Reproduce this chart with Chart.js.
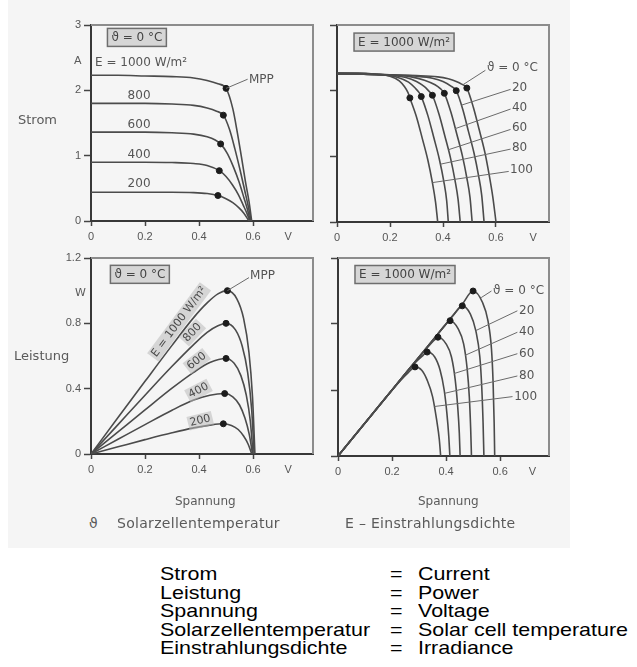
<!DOCTYPE html>
<html><head><meta charset="utf-8">
<script src="https://cdn.jsdelivr.net/npm/chart.js@4/dist/chart.umd.min.js"></script>
<style>
html,body{margin:0;padding:0;background:#fff}
body{width:637px;height:667px;position:relative;overflow:hidden}
#scan{position:absolute;left:8px;top:0;width:562px;height:548px;background:#f5f5f5}
canvas{position:absolute}
.lab{position:absolute;font-family:"DejaVu Sans",sans-serif;color:#5a5a5a;white-space:nowrap;line-height:1}
.tr{position:absolute;font-family:"Liberation Sans",Arial,sans-serif;color:#000;font-size:19px;line-height:19px;white-space:nowrap;transform:scaleX(1.13);transform-origin:0 0}
</style></head>
<body>
<div id="scan"></div>
<canvas id="c1" width="330" height="250" style="left:0;top:0"></canvas>
<canvas id="c2" width="240" height="250" style="left:320px;top:0"></canvas>
<canvas id="c3" width="330" height="260" style="left:0;top:240px"></canvas>
<canvas id="c4" width="240" height="260" style="left:320px;top:240px"></canvas>
<div class="lab" style="left:18px;top:113px;font-size:13px">Strom</div>
<div class="lab" style="left:14px;top:349px;font-size:13px">Leistung</div>
<div class="lab" style="left:74px;top:55px;font-size:11px">A</div>
<div class="lab" style="left:75px;top:287px;font-size:11px">W</div>
<div class="lab" style="left:175px;top:495px;font-size:12px">Spannung</div>
<div class="lab" style="left:418px;top:495px;font-size:12px">Spannung</div>
<div class="lab" style="left:89px;top:516px;font-size:14px">ϑ</div>
<div class="lab" style="left:117px;top:516px;font-size:14px;letter-spacing:0.3px">Solarzellentemperatur</div>
<div class="lab" style="left:345px;top:516px;font-size:14px;letter-spacing:0.3px">E – Einstrahlungsdichte</div>
<div id="table"></div>
<script>
// ---------------- data ----------------
const voltageTicks = [0, 0.2, 0.4, 0.6];
const currentTicks = [0, 1, 2, 3];
const powerTicks = [0, 0.4, 0.8, 1.2];
const irradianceLabels = ['E = 1000 W/m²', '800', '600', '400', '200'];
const temperatureLabels = ['ϑ = 0 °C', '20', '40', '60', '80', '100'];
const termsDe = ['Strom', 'Leistung', 'Spannung', 'Solarzellentemperatur', 'Einstrahlungsdichte'];
const termsEn = ['Current', 'Power', 'Voltage', 'Solar cell temperature', 'Irradiance'];

// current-voltage, irradiance series (ϑ = 0 °C)
const ivE1000 = [[0,2.23],[0.1,2.23],[0.2,2.22],[0.3,2.21],[0.38,2.19],[0.43,2.15],[0.47,2.1],[0.5,2.03],[0.525,1.72],[0.542,1.35],[0.557,0.98],[0.572,0.6],[0.585,0.3],[0.595,0]];
const ivE800  = [[0,1.8],[0.1,1.8],[0.2,1.8],[0.3,1.79],[0.38,1.77],[0.43,1.73],[0.465,1.68],[0.49,1.62],[0.513,1.4],[0.533,1.1],[0.552,0.78],[0.569,0.47],[0.582,0.23],[0.593,0]];
const ivE600  = [[0,1.36],[0.1,1.36],[0.2,1.36],[0.3,1.35],[0.38,1.33],[0.43,1.29],[0.46,1.24],[0.48,1.18],[0.505,1.03],[0.528,0.82],[0.548,0.6],[0.566,0.36],[0.579,0.18],[0.59,0]];
const ivE400  = [[0,0.9],[0.1,0.9],[0.2,0.9],[0.3,0.895],[0.38,0.88],[0.43,0.85],[0.475,0.77],[0.5,0.68],[0.524,0.55],[0.546,0.4],[0.564,0.24],[0.577,0.12],[0.588,0]];
const ivE200  = [[0,0.44],[0.1,0.44],[0.2,0.44],[0.3,0.44],[0.38,0.435],[0.43,0.42],[0.47,0.39],[0.5,0.34],[0.525,0.28],[0.548,0.2],[0.566,0.12],[0.585,0]];
const mppIvE  = [[0.5,2.03],[0.49,1.62],[0.48,1.18],[0.475,0.77],[0.47,0.39]];

// current-voltage, temperature series (E = 1000 W/m²)
const ivT0   = [[0,2.25],[0.1,2.25],[0.2,2.24],[0.3,2.23],[0.38,2.21],[0.42,2.18],[0.45,2.14],[0.47,2.1],[0.49,2.04],[0.515,1.74],[0.537,1.4],[0.558,1.06],[0.575,0.7],[0.588,0.38],[0.6,0]];
const ivT20  = [[0,2.25],[0.1,2.25],[0.2,2.24],[0.3,2.22],[0.36,2.19],[0.4,2.14],[0.43,2.07],[0.45,2.0],[0.475,1.71],[0.496,1.38],[0.517,1.05],[0.534,0.71],[0.546,0.41],[0.555,0]];
const ivT40  = [[0,2.26],[0.1,2.25],[0.2,2.24],[0.28,2.21],[0.33,2.16],[0.37,2.09],[0.39,2.03],[0.405,1.96],[0.43,1.67],[0.452,1.34],[0.473,1.01],[0.49,0.67],[0.502,0.37],[0.51,0]];
const ivT60  = [[0,2.26],[0.1,2.25],[0.2,2.23],[0.26,2.2],[0.3,2.14],[0.33,2.06],[0.345,2.0],[0.36,1.93],[0.385,1.64],[0.407,1.31],[0.428,0.98],[0.445,0.64],[0.457,0.34],[0.465,0]];
const ivT80  = [[0,2.27],[0.1,2.26],[0.18,2.24],[0.23,2.2],[0.27,2.13],[0.295,2.04],[0.31,1.97],[0.318,1.91],[0.343,1.62],[0.365,1.29],[0.386,0.96],[0.403,0.62],[0.414,0.32],[0.42,0]];
const ivT100 = [[0,2.27],[0.08,2.27],[0.15,2.25],[0.2,2.22],[0.235,2.15],[0.255,2.06],[0.268,1.97],[0.275,1.89],[0.3,1.6],[0.322,1.27],[0.343,0.94],[0.36,0.6],[0.372,0.3],[0.38,0]];
const mppIvT = [[0.49,2.04],[0.45,2.0],[0.405,1.96],[0.36,1.93],[0.318,1.91],[0.275,1.89]];

// power-voltage, irradiance series (ϑ = 0 °C)
const pvE1000 = [[0,0],[0.1,0.223],[0.2,0.445],[0.3,0.665],[0.38,0.835],[0.43,0.925],[0.47,0.98],[0.505,1.0],[0.54,0.95],[0.565,0.83],[0.585,0.62],[0.598,0.35],[0.607,0]];
const pvE800  = [[0,0],[0.1,0.18],[0.2,0.36],[0.3,0.537],[0.38,0.67],[0.43,0.745],[0.47,0.785],[0.5,0.8],[0.535,0.76],[0.56,0.66],[0.58,0.5],[0.595,0.27],[0.604,0]];
const pvE600  = [[0,0],[0.1,0.135],[0.2,0.27],[0.3,0.403],[0.38,0.5],[0.44,0.56],[0.5,0.585],[0.53,0.555],[0.555,0.48],[0.575,0.36],[0.59,0.2],[0.6,0]];
const pvE400  = [[0,0],[0.1,0.09],[0.2,0.18],[0.3,0.268],[0.38,0.33],[0.44,0.36],[0.495,0.37],[0.525,0.35],[0.55,0.3],[0.57,0.22],[0.586,0.12],[0.598,0]];
const pvE200  = [[0,0],[0.1,0.044],[0.2,0.088],[0.3,0.13],[0.38,0.16],[0.44,0.177],[0.49,0.185],[0.52,0.175],[0.545,0.15],[0.565,0.11],[0.582,0.06],[0.595,0]];
const mppPvE  = [[0.505,1.0],[0.5,0.8],[0.5,0.585],[0.495,0.37],[0.49,0.185]];

// power-voltage, temperature series (E = 1000 W/m²)
const pvT0   = [[0,0],[0.1,0.2],[0.2,0.4],[0.3,0.6],[0.4,0.8],[0.46,0.92],[0.5,1.0],[0.535,0.93],[0.555,0.82],[0.568,0.65],[0.574,0.45],[0.578,0.2],[0.58,0]];
const pvT20  = [[0,0],[0.1,0.2],[0.2,0.4],[0.3,0.6],[0.38,0.76],[0.43,0.86],[0.46,0.91],[0.49,0.86],[0.51,0.76],[0.525,0.6],[0.532,0.42],[0.537,0.2],[0.54,0]];
const pvT40  = [[0,0],[0.1,0.2],[0.2,0.4],[0.3,0.6],[0.36,0.72],[0.395,0.79],[0.415,0.82],[0.445,0.77],[0.465,0.68],[0.478,0.53],[0.486,0.36],[0.491,0.17],[0.494,0]];
const pvT60  = [[0,0],[0.1,0.2],[0.2,0.4],[0.28,0.56],[0.33,0.655],[0.355,0.7],[0.37,0.72],[0.4,0.68],[0.42,0.6],[0.434,0.46],[0.443,0.3],[0.449,0.14],[0.452,0]];
const pvT80  = [[0,0],[0.1,0.2],[0.2,0.4],[0.26,0.52],[0.295,0.58],[0.315,0.61],[0.33,0.63],[0.358,0.6],[0.378,0.52],[0.393,0.4],[0.403,0.26],[0.41,0.12],[0.414,0]];
const pvT100 = [[0,0],[0.1,0.2],[0.18,0.36],[0.23,0.455],[0.26,0.505],[0.285,0.54],[0.31,0.52],[0.33,0.46],[0.35,0.36],[0.365,0.22],[0.375,0.1],[0.38,0]];
const mppPvT = [[0.5,1.0],[0.46,0.91],[0.415,0.82],[0.37,0.72],[0.33,0.63],[0.285,0.54]];

// ---------------- rendering ----------------
const LINE = '#4b4b4b', TXT = '#555';
const toXY = a => a.map(p => ({x: p[0], y: p[1]}));
const curve = a => ({type:'line', data: toXY(a), borderColor: LINE, borderWidth: 1.6, pointRadius: 0,
  cubicInterpolationMode: 'monotone', fill: false, order: 2});
const mpp = a => ({type:'scatter', data: toXY(a), pointRadius: 3, pointStyle: 'circle',
  backgroundColor: '#1c1c1c', borderColor: '#1c1c1c', order: 1});
const fmt = v => (v === 0 ? '0' : String(v));

const ANN = {
  c1: { vx: 0.73,
    boxes: [{t: 'ϑ = 0 °C', x: 0.17, y: 2.81}],
    texts: [{t: irradianceLabels[0], x: 0.015, y: 2.42, a: 'left'},
            {t: irradianceLabels[1], x: 0.178, y: 1.91}, {t: irradianceLabels[2], x: 0.178, y: 1.47},
            {t: irradianceLabels[3], x: 0.178, y: 1.01}, {t: irradianceLabels[4], x: 0.178, y: 0.57},
            {t: 'MPP', x: 0.585, y: 2.16, a: 'left'}],
    leaders: [[0.5, 2.03, 0.58, 2.17]], rot: [] },
  c2: { vx: 0.74,
    boxes: [{t: 'E = 1000 W/m²', x: 0.253, y: 2.74}],
    texts: [{t: temperatureLabels[0], x: 0.566, y: 2.34, a: 'left'},
            {t: temperatureLabels[1], x: 0.66, y: 2.04, a: 'left'}, {t: temperatureLabels[2], x: 0.66, y: 1.74, a: 'left'},
            {t: temperatureLabels[3], x: 0.66, y: 1.43, a: 'left'}, {t: temperatureLabels[4], x: 0.66, y: 1.13, a: 'left'},
            {t: temperatureLabels[5], x: 0.653, y: 0.79, a: 'left'}],
    leaders: [[0.56,2.31,0.475,2.09],[0.655,2.02,0.47,1.78],[0.655,1.72,0.445,1.42],[0.655,1.41,0.42,1.1],[0.655,1.11,0.39,0.88],[0.648,0.77,0.36,0.6]],
    rot: [] },
  c3: { vx: 0.73,
    boxes: [{t: 'ϑ = 0 °C', x: 0.181, y: 1.1}],
    texts: [{t: 'MPP', x: 0.589, y: 1.09, a: 'left'}],
    leaders: [[0.505, 1.0, 0.585, 1.08]],
    rot: [{t: irradianceLabels[0], x: 0.35, y: 0.78, off: 8}, {t: irradianceLabels[1], x: 0.40, y: 0.705, off: 9},
          {t: irradianceLabels[2], x: 0.41, y: 0.53, off: 8}, {t: irradianceLabels[3], x: 0.41, y: 0.35, off: 7},
          {t: irradianceLabels[4], x: 0.41, y: 0.168, off: 6}] },
  c4: { vx: 0.72,
    boxes: [{t: 'E = 1000 W/m²', x: 0.248, y: 1.10}],
    texts: [{t: temperatureLabels[0], x: 0.574, y: 1.0, a: 'left'},
            {t: temperatureLabels[1], x: 0.67, y: 0.88, a: 'left'}, {t: temperatureLabels[2], x: 0.67, y: 0.75, a: 'left'},
            {t: temperatureLabels[3], x: 0.67, y: 0.62, a: 'left'}, {t: temperatureLabels[4], x: 0.67, y: 0.485, a: 'left'},
            {t: temperatureLabels[5], x: 0.652, y: 0.36, a: 'left'}],
    leaders: [[0.568,1.0,0.53,0.96],[0.664,0.88,0.51,0.76],[0.664,0.75,0.47,0.61],[0.664,0.62,0.43,0.5],[0.664,0.485,0.395,0.38],[0.646,0.36,0.357,0.3]],
    rot: [] }
};

const annPlugin = {
  id: 'ann',
  beforeDatasetsDraw(chart) {
    const {ctx, chartArea: a} = chart;
    ctx.save();
    ctx.strokeStyle = '#8c8c8c'; ctx.lineWidth = 2;
    ctx.beginPath(); ctx.moveTo(a.left, a.top); ctx.lineTo(a.right, a.top); ctx.lineTo(a.right, a.bottom); ctx.stroke();
    ctx.restore();
  },
  afterDatasetsDraw(chart) {
    const A = ANN[chart.canvas.id]; if (!A) return;
    const {ctx, chartArea: a} = chart;
    const xs = chart.scales.x, ys = chart.scales.y;
    const px = v => xs.getPixelForValue(v), py = v => ys.getPixelForValue(v);
    ctx.save();
    // leaders
    ctx.strokeStyle = '#6a6a6a'; ctx.lineWidth = 1;
    A.leaders.forEach(l => { ctx.beginPath(); ctx.moveTo(px(l[0]), py(l[1])); ctx.lineTo(px(l[2]), py(l[3])); ctx.stroke(); });
    ctx.textBaseline = 'middle';
    // boxed labels
    ctx.font = '12px "DejaVu Sans"';
    A.boxes.forEach(b => {
      const w = ctx.measureText(b.t).width + 8, h = 18, cx = px(b.x), cy = py(b.y);
      ctx.fillStyle = '#d6d6d6'; ctx.fillRect(cx - w/2, cy - h/2, w, h);
      ctx.strokeStyle = '#6e6e6e'; ctx.lineWidth = 1.5; ctx.strokeRect(cx - w/2, cy - h/2, w, h);
      ctx.fillStyle = '#444'; ctx.textAlign = 'center'; ctx.fillText(b.t, cx, cy + 0.5);
    });
    // plain labels
    ctx.font = '12px "DejaVu Sans"'; ctx.fillStyle = TXT;
    A.texts.forEach(t => { ctx.textAlign = t.a || 'center'; ctx.fillText(t.t, px(t.x), py(t.y)); });
    // rotated labels along the power lines
    const ox = px(0), oy = py(0);
    A.rot.forEach(r => {
      const x = px(r.x), y = py(r.y), ang = Math.atan2(y - oy, x - ox);
      ctx.save(); ctx.translate(x, y); ctx.rotate(ang);
      ctx.font = '11px "DejaVu Sans"';
      const w = ctx.measureText(r.t).width + 4;
      ctx.fillStyle = 'rgba(185,185,185,0.55)'; ctx.fillRect(-w/2, -r.off - 7, w, 14);
      ctx.fillStyle = '#4a4a4a'; ctx.textAlign = 'center'; ctx.fillText(r.t, 0, -r.off);
      ctx.restore();
    });
    // axis unit V
    ctx.font = '11px "Liberation Sans"'; ctx.fillStyle = TXT; ctx.textAlign = 'center';
    ctx.fillText('V', px(A.vx), a.bottom + 16);
    ctx.restore();
  }
};

function makePanel(id, area, cw, ch, xMax, yMax, yTicks, yLab, curves, mpps) {
  const datasets = curves.map(curve).concat([mpp(mpps)]);
  new Chart(document.getElementById(id), {
    type: 'line',
    data: {datasets},
    plugins: [annPlugin],
    options: {
      responsive: false, animation: false, events: [],
      layout: {padding: {left: 0, top: area.t, right: cw - area.r, bottom: 0}},
      plugins: {legend: {display: false}, tooltip: {enabled: false}},
      scales: {
        x: {type: 'linear', min: 0, max: xMax,
          afterBuildTicks: s => { s.ticks = voltageTicks.map(v => ({value: v})); },
          afterFit: s => { s.height = ch - area.b; },
          ticks: {callback: v => fmt(v), color: TXT, font: {family: 'Liberation Sans', size: 11}, padding: 4, maxRotation: 0, autoSkip: false},
          grid: {drawOnChartArea: false, drawTicks: true, tickLength: 5, tickColor: '#444', tickWidth: 1.5},
          border: {color: '#383838', width: 2}},
        y: {type: 'linear', min: 0, max: yMax,
          afterBuildTicks: s => { s.ticks = yTicks.map(v => ({value: v})); },
          afterFit: s => { s.width = area.l; },
          ticks: {callback: v => (yLab ? fmt(v) : ''), color: TXT, font: {family: 'Liberation Sans', size: 11}, padding: 3, autoSkip: false},
          grid: {drawOnChartArea: false, drawTicks: true, tickLength: 7, tickColor: '#444', tickWidth: 1.5},
          border: {color: '#383838', width: 2}}
      }
    }
  });
}

makePanel('c1', {l: 91, t: 25, r: 313, b: 221}, 330, 250, 0.822, 3, currentTicks, true,
  [ivE1000, ivE800, ivE600, ivE400, ivE200], mppIvE);
makePanel('c2', {l: 17, t: 25, r: 229, b: 222}, 240, 250, 0.8, 3, currentTicks, false,
  [ivT0, ivT20, ivT40, ivT60, ivT80, ivT100], mppIvT);
makePanel('c3', {l: 91, t: 18, r: 313, b: 214}, 330, 260, 0.822, 1.2, powerTicks, true,
  [pvE1000, pvE800, pvE600, pvE400, pvE200], mppPvE);
makePanel('c4', {l: 18, t: 18, r: 229, b: 216}, 240, 260, 0.781, 1.2, powerTicks, false,
  [pvT0, pvT20, pvT40, pvT60, pvT80, pvT100], mppPvT);

// translation table
const tbl = document.getElementById('table');
termsDe.forEach((de, i) => {
  const top = 564 + i * 18.5;
  [[de, 160], ['=', 390], [termsEn[i], 418]].forEach(([t, x]) => {
    const d = document.createElement('div'); d.className = 'tr';
    d.style.left = x + 'px'; d.style.top = top + 'px'; d.textContent = t; tbl.appendChild(d);
  });
});
</script>
</body></html>
